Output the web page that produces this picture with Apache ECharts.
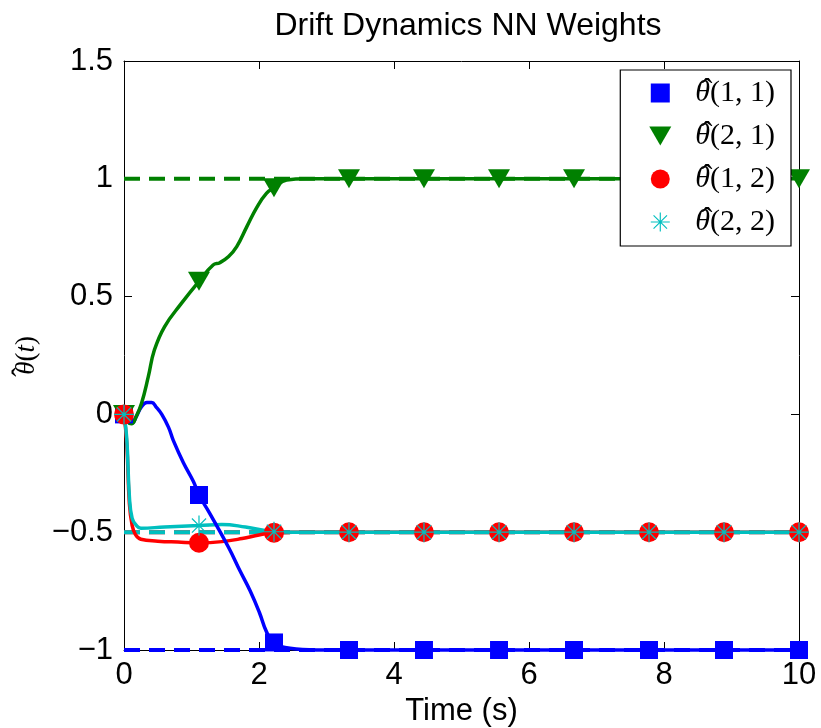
<!DOCTYPE html>
<html>
<head>
<meta charset="utf-8">
<title>Drift Dynamics NN Weights</title>
<script src="https://cdn.jsdelivr.net/npm/echarts@6/dist/echarts.min.js"></script>
<style>
  html, body { margin: 0; padding: 0; background: #fff; }
  #chart { width: 821px; height: 728px; }
</style>
</head>
<body>
<div id="chart"></div>
<script>
// ---- data -------------------------------------------------------------
// Weight estimate trajectories (time in seconds, value of the estimate)
const theta11Time = [0, 0.05, 0.11, 0.18, 0.26, 0.34, 0.41, 0.48, 0.56, 0.66, 0.73, 0.88, 1.03, 1.111, 1.27, 1.55, 1.72, 1.87, 2.01, 2.11, 2.222, 2.46, 2.85, 10];
const theta11 = [0, -0.03, -0.038, -0.01, 0.033, 0.05, 0.05, 0.03, 0.0, -0.055, -0.11, -0.205, -0.286, -0.342, -0.42, -0.565, -0.665, -0.75, -0.844, -0.922, -0.968, -0.993, -1.0, -1.0];

const theta21Time = [0, 0.05, 0.11, 0.18, 0.26, 0.36, 0.45, 0.6, 0.85, 1.111, 1.32, 1.42, 1.55, 1.67, 1.82, 1.97, 2.11, 2.222, 2.41, 2.7, 10];
const theta21 = [0, -0.03, -0.04, -0.01, 0.047, 0.16, 0.273, 0.372, 0.471, 0.565, 0.634, 0.644, 0.67, 0.712, 0.797, 0.88, 0.938, 0.962, 0.995, 1.0, 1.0];

const theta12Time = [0, 0.04, 0.08, 0.12, 0.17, 0.25, 0.5, 0.8, 1.111, 1.45, 1.75, 2.0, 2.222, 2.5, 10];
const theta12 = [0, -0.12, -0.38, -0.47, -0.51, -0.53, -0.538, -0.542, -0.545, -0.54, -0.527, -0.512, -0.502, -0.5, -0.5];

const theta22Time = [0, 0.04, 0.08, 0.12, 0.18, 0.25, 0.6, 1.111, 1.45, 1.8, 2.222, 2.5, 10];
const theta22 = [0, -0.1, -0.35, -0.44, -0.47, -0.483, -0.478, -0.472, -0.467, -0.478, -0.498, -0.5, -0.5];

// Marker samples along each trajectory
const markerTimes = [0, 1.111, 2.222, 3.333, 4.444, 5.556, 6.667, 7.778, 8.889, 10];
const theta11Markers = [0, -0.342, -0.968, -1, -1, -1, -1, -1, -1, -1];
const theta21Markers = [0, 0.565, 0.962, 1, 1, 1, 1, 1, 1, 1];
const theta12Markers = [0, -0.545, -0.502, -0.5, -0.5, -0.5, -0.5, -0.5, -0.5, -0.5];
const theta22Markers = [0, -0.472, -0.498, -0.5, -0.5, -0.5, -0.5, -0.5, -0.5, -0.5];

// Ideal (true) weight values, drawn as dashed lines
const idealTimes = [0, 10];
const theta11Ideal = -1;
const theta21Ideal = 1;
const theta12Ideal = -0.5;
const theta22Ideal = -0.5;

const seriesIndices = ['(1, 1)', '(2, 1)', '(1, 2)', '(2, 2)'];
const xTicks = [0, 2, 4, 6, 8, 10];
const yTicks = [-1, -0.5, 0, 0.5, 1, 1.5];

// ---- styling ----------------------------------------------------------
const BLUE = '#0000ff', GREEN = '#008000', RED = '#ff0000', CYAN = '#00bfbf';
const SANS = 'Liberation Sans, Arial, Helvetica, sans-serif';
const SERIF = 'Liberation Serif, DejaVu Serif, serif';

const pair = (ts, vs) => ts.map((t, i) => [t, vs[i]]);
const names = seriesIndices.map(s => 'θ̂' + s);

// A zero-width accent token drawn over the following theta
const HAT = '{hat|\u2009\u02C6}';

const SQUARE = 'path://M0,0H1V1H0Z';
const TRI_DOWN = 'path://M0,0L22,0L11,19Z';
const ASTERISK = 'path://M-10,-0.6L10,-0.6L10,0.6L-10,0.6Z' +
  'M-0.6,-10L0.6,-10L0.6,10L-0.6,10Z' +
  'M-6.646,-7.494L7.494,6.646L6.646,7.494L-7.494,-6.646Z' +
  'M7.494,-6.646L-6.646,7.494L-7.494,6.646L6.646,-7.494Z';

function markerSeries(name, values, color, symbol, size) {
  return {
    name, type: 'scatter', z: 3, clip: false,
    symbol, symbolSize: size,
    itemStyle: { color, opacity: 1 },
    emphasis: { disabled: true },
    data: pair(markerTimes, values)
  };
}
function curveSeries(name, ts, vs, color, z) {
  return {
    name, type: 'line', z, clip: false,
    showSymbol: false, symbol: 'none',
    smooth: 0.45,
    itemStyle: { color },
    lineStyle: { color, width: 3.5 },
    emphasis: { disabled: true },
    data: pair(ts, vs)
  };
}
function idealSeries(value, color) {
  return {
    name: 'ideal', type: 'line', z: 1, clip: false,
    showSymbol: false, symbol: 'none',
    lineStyle: { color, width: 4, type: [16, 9] },
    emphasis: { disabled: true },
    data: idealTimes.map(t => [t, value])
  };
}

const fmtTick = v => (v < 0 ? '\u2212' : '') + Math.abs(v);

const mathRich = size => ({
  hat: { width: 0, fontFamily: SERIF, fontSize: size + 2, lineHeight: 14, verticalAlign: 'top', color: '#000' },
  th: { fontFamily: SERIF, fontStyle: 'italic', fontSize: size, lineHeight: 34, color: '#000' },
  it: { fontFamily: SERIF, fontStyle: 'italic', fontSize: size, lineHeight: 34, color: '#000' },
  p: { fontFamily: SERIF, fontSize: size, lineHeight: 34, color: '#000' }
});

const chart = echarts.init(document.getElementById('chart'), null, { renderer: 'canvas' });

const axisCommon = {
  type: 'value',
  axisLine: { show: true, onZero: false, lineStyle: { color: '#000', width: 1 } },
  axisTick: { show: true, inside: true, length: 8, lineStyle: { color: '#000', width: 1 } },
  splitLine: { show: false }
};

chart.setOption({
  animation: false,
  backgroundColor: '#fff',
  title: {
    text: 'Drift Dynamics NN Weights',
    left: 463, top: 5, textAlign: 'center',
    textStyle: { fontFamily: SANS, fontSize: 32, fontWeight: 'normal', color: '#000' }
  },
  grid: { left: 124, right: 22, top: 61, bottom: 78, outerBoundsMode: 'none', containLabel: false },
  legend: {
    orient: 'vertical',
    right: 30, top: 70, z: 10,
    data: [
      { name: names[0], icon: SQUARE },
      { name: names[1], icon: TRI_DOWN },
      { name: names[2], icon: 'circle' },
      { name: names[3], icon: ASTERISK }
    ],
    itemWidth: 22, itemHeight: 19, itemGap: 9,
    padding: [6, 16, 7, 29],
    borderColor: '#000', borderWidth: 1.2,
    backgroundColor: '#fff',
    selectedMode: false,
    formatter: n => HAT + '{th|θ}{p|' + n.slice(2) + '}',
    textStyle: {
      padding: [0, 0, 0, 19],
      lineHeight: 34,
      rich: mathRich(30)
    }
  },
  xAxis: [
    Object.assign({}, axisCommon, {
      position: 'bottom', min: xTicks[0], max: xTicks[xTicks.length - 1], interval: 2,
      axisLabel: { fontFamily: SANS, fontSize: 31, color: '#000', margin: 10 },
      name: 'Time (s)', nameLocation: 'middle', nameGap: 45,
      nameTextStyle: { fontFamily: SANS, fontSize: 31, color: '#000' }
    }),
    Object.assign({}, axisCommon, {
      position: 'top', min: xTicks[0], max: xTicks[xTicks.length - 1], interval: 2,
      axisLabel: { show: false }
    })
  ],
  yAxis: [
    Object.assign({}, axisCommon, {
      position: 'left', min: yTicks[0], max: yTicks[yTicks.length - 1], interval: 0.5,
      axisLabel: { fontFamily: SANS, fontSize: 31, color: '#000', margin: 11, formatter: fmtTick },
      name: HAT + '{th|θ}{p|(}{it|t}{p|)}', nameLocation: 'middle', nameRotate: 90, nameGap: 80,
      nameTextStyle: { rich: mathRich(27) }
    }),
    Object.assign({}, axisCommon, {
      position: 'right', min: yTicks[0], max: yTicks[yTicks.length - 1], interval: 0.5,
      axisLabel: { show: false }
    })
  ],
  series: [
    markerSeries(names[0], theta11Markers, BLUE, SQUARE, 18),
    markerSeries(names[1], theta21Markers, GREEN, TRI_DOWN, [22, 19]),
    markerSeries(names[2], theta12Markers, RED, 'circle', 20),
    markerSeries(names[3], theta22Markers, CYAN, ASTERISK, 20),
    idealSeries(theta21Ideal, GREEN),
    idealSeries(theta11Ideal, BLUE),
    idealSeries(theta12Ideal, RED),
    idealSeries(theta22Ideal, CYAN),
    curveSeries(names[2], theta12Time, theta12, RED, 2),
    curveSeries(names[3], theta22Time, theta22, CYAN, 2),
    curveSeries(names[0], theta11Time, theta11, BLUE, 2),
    curveSeries(names[1], theta21Time, theta21, GREEN, 2)
  ]
});
</script>
</body>
</html>
